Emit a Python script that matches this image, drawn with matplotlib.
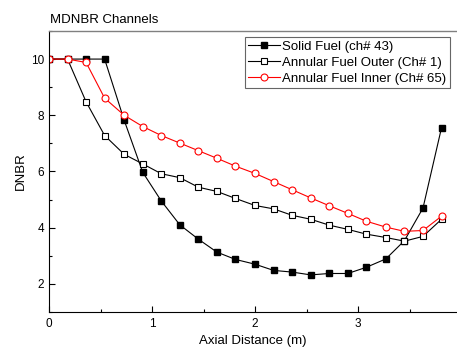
import matplotlib
matplotlib.use("Agg")
from matplotlib import pyplot as plt
from matplotlib.ticker import MultipleLocator

plt.rcParams['font.family'] = ['Liberation Sans', 'DejaVu Sans']

# axial positions (m)
axial = [0.0, 0.18, 0.36, 0.54, 0.73, 0.91, 1.09, 1.27, 1.45, 1.63, 1.81,
         2.0, 2.18, 2.36, 2.54, 2.72, 2.90, 3.08, 3.27, 3.45, 3.63, 3.81]

solid_fuel = [10.0, 10.0, 10.0, 10.0, 7.82, 5.97, 4.95, 4.10, 3.59, 3.13, 2.87,
              2.70, 2.48, 2.42, 2.32, 2.37, 2.37, 2.59, 2.89, 3.54, 4.70, 7.56]
annular_outer = [10.0, 10.0, 8.48, 7.28, 6.61, 6.27, 5.92, 5.78, 5.44, 5.29, 5.04,
                 4.79, 4.67, 4.44, 4.30, 4.09, 3.94, 3.77, 3.65, 3.52, 3.69, 4.30]
annular_inner = [10.0, 10.0, 9.88, 8.61, 8.00, 7.60, 7.28, 7.01, 6.74, 6.47, 6.19,
                 5.93, 5.64, 5.35, 5.06, 4.78, 4.51, 4.23, 4.02, 3.87, 3.90, 4.41]

labels = ["Solid Fuel (ch# 43)", "Annular Fuel Outer (Ch# 1)",
          "Annular Fuel Inner (Ch# 65)"]

fig = plt.figure(figsize=(4.57, 3.5), dpi=100)
ax = fig.add_axes([0.1072, 0.1086, 0.8928, 0.8029])

ax.plot(axial, solid_fuel, color='black', linewidth=0.8, marker='s',
        markersize=4.3, markerfacecolor='black', markeredgecolor='black',
        label=labels[0])
ax.plot(axial, annular_outer, color='black', linewidth=0.8, marker='s',
        markersize=4.3, markerfacecolor='white', markeredgecolor='black',
        markeredgewidth=0.8, label=labels[1])
ax.plot(axial, annular_inner, color='red', linewidth=0.8, marker='o',
        markersize=5.0, markerfacecolor='white', markeredgecolor='red',
        markeredgewidth=0.8, label=labels[2])

ax.set_xlim(0, 3.96)
ax.set_ylim(1, 11)
ax.xaxis.set_major_locator(MultipleLocator(1))
ax.xaxis.set_minor_locator(MultipleLocator(0.5))
ax.yaxis.set_major_locator(MultipleLocator(2))
ax.yaxis.set_minor_locator(MultipleLocator(1))
ax.tick_params(which='both', direction='in', labelsize=8.5, width=0.8)
ax.tick_params(which='major', length=4)
ax.tick_params(which='minor', length=2.5)
ax.tick_params(axis='x', pad=4)

ax.spines['right'].set_visible(False)
ax.spines['top'].set_color('#808080')
ax.spines['top'].set_linewidth(1.0)
ax.spines['left'].set_linewidth(0.8)
ax.spines['bottom'].set_linewidth(0.8)

ax.set_xlabel("Axial Distance (m)", fontsize=9.5, labelpad=4)
ax.set_ylabel("DNBR", fontsize=9.5, labelpad=3)
fig.text(0.109, 0.943, "MDNBR Channels", fontsize=9.5, ha='left', va='center')

leg = ax.legend(loc='upper left', bbox_to_anchor=(0.48, 0.978), fontsize=9.5,
                frameon=True, fancybox=False, borderpad=0.25, labelspacing=0.3,
                handlelength=2.4, handletextpad=0.2, borderaxespad=0)
leg.get_frame().set_edgecolor('#404040')
leg.get_frame().set_linewidth(0.8)

fig.savefig("out.png", dpi=100)
